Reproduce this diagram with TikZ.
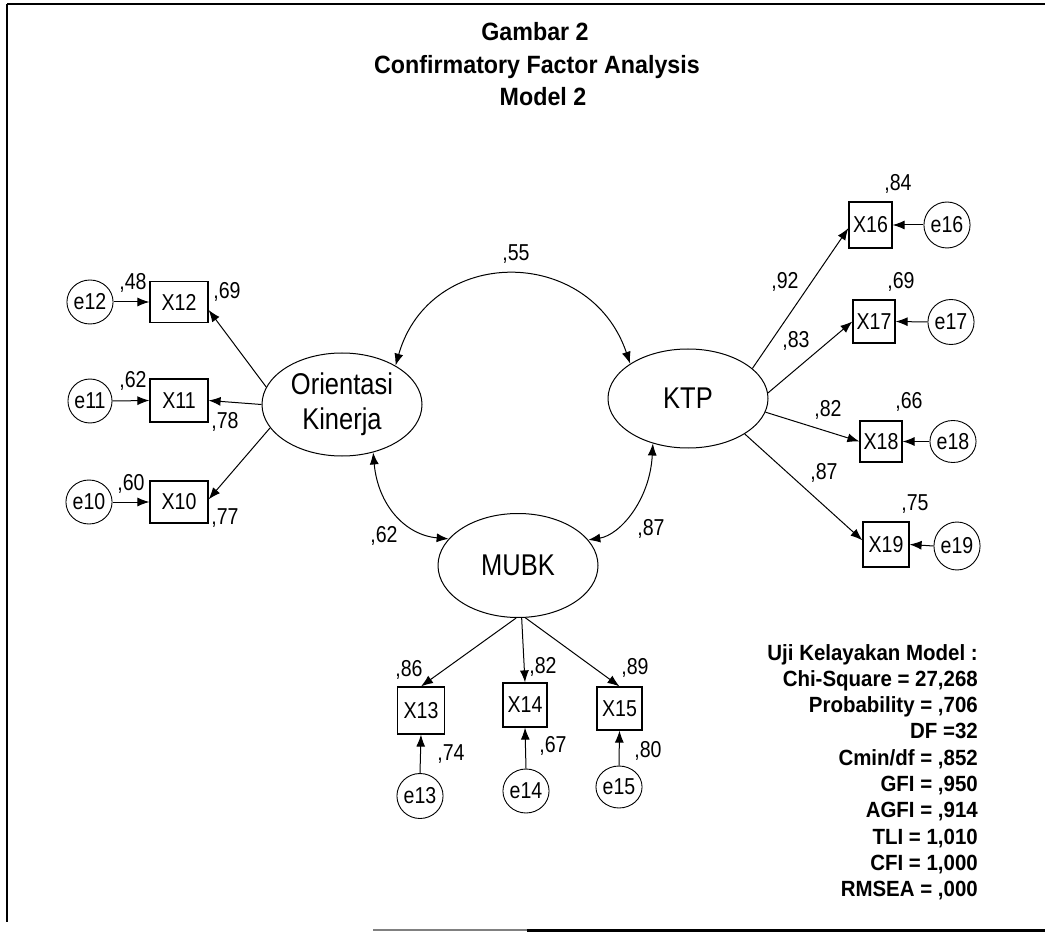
\documentclass[tikz,border=0pt]{standalone}
\usepackage{fontspec}
\setmainfont{Liberation Sans}
\newfontfamily\lblfont[FakeStretch=0.85]{Liberation Sans}
\newfontfamily\hdfont[FakeStretch=0.93]{Liberation Sans}
\usetikzlibrary{arrows.meta,shapes.geometric}
\begin{document}
\begin{tikzpicture}[x=1pt,y=-1pt,
  lat/.style={ellipse, draw, line width=1pt, minimum width=160pt, minimum height=103pt, inner sep=0pt, align=center, font=\lblfont\fontsize{30}{35}\selectfont},
  obs/.style={rectangle, draw, line width=1.2pt, inner sep=0pt, font=\lblfont\fontsize{23}{26}\selectfont},
  err/.style={ellipse, draw, line width=0.9pt, inner sep=0pt, font=\lblfont\fontsize{23}{26}\selectfont},
  lbl/.style={inner sep=0pt, font=\lblfont\fontsize{23}{26}\selectfont},
  stat/.style={inner sep=0pt, anchor=base east, font=\hdfont\bfseries\fontsize{22}{26}\selectfont},
  ttl/.style={inner sep=0pt, anchor=base, font=\hdfont\bfseries\fontsize{25}{30}\selectfont},
  pth/.style={-{Latex[length=12pt,width=9pt]}, line width=1pt},
  cov/.style={{Latex[length=12pt,width=9pt]}-{Latex[length=12pt,width=9pt]}, line width=1pt},
]
\useasboundingbox (0,0) rectangle (1045,933);
% frame
\draw[line width=2.5pt] (7,4) -- (1045,4);
\draw[line width=1.5pt] (7,4) -- (7,922);
\draw[line width=1.5pt, gray] (373,930) -- (527,930);
\draw[line width=3pt] (527,930) -- (1045,930);
% title
\node[ttl] (t1) at (535,41) {Gambar 2};
\node[ttl] (t2) at (537,74) {Confirmatory Factor Analysis};
\node[ttl] (t3) at (543,106) {Model 2};
% latent variables
\node[lat] (OK) at (342,404.5) {Orientasi\\Kinerja};
\node[lat, minimum height=99pt] (KTP) at (688,398.5) {KTP};
\node[lat, minimum height=104pt] (MUBK) at (518,565.5) {MUBK};
% left indicators
\node[obs, minimum width=58pt, minimum height=41pt] (X12) at (179,302) {X12};
\node[obs, minimum width=58pt, minimum height=43pt] (X11) at (179,400.5) {X11};
\node[obs, minimum width=58pt, minimum height=42pt] (X10) at (179,502) {X10};
\node[err, minimum width=44pt, minimum height=44pt] (e12) at (90,302) {e12};
\node[err, minimum width=44pt, minimum height=44pt] (e11) at (90,401) {e11};
\node[err, minimum width=44pt, minimum height=44pt] (e10) at (89,502) {e10};
% right indicators
\node[obs, minimum width=43pt, minimum height=46pt] (X16) at (870.5,225) {X16};
\node[obs, minimum width=42pt, minimum height=43pt] (X17) at (874,321.5) {X17};
\node[obs, minimum width=42pt, minimum height=41pt] (X18) at (881,441.5) {X18};
\node[obs, minimum width=46pt, minimum height=45pt] (X19) at (886,544.5) {X19};
\node[err, minimum width=36pt, minimum height=46pt] (e16) at (947,225) {e16};
\node[err, minimum width=37pt, minimum height=45pt] (e17) at (951,322) {e17};
\node[err, minimum width=37pt, minimum height=42pt] (e18) at (953,441.5) {e18};
\node[err, minimum width=36pt, minimum height=48pt] (e19) at (957,546) {e19};
% bottom indicators
\node[obs, minimum width=47pt, minimum height=47pt] (X13) at (421,710.5) {X13};
\node[obs, minimum width=44pt, minimum height=44pt] (X14) at (525,705) {X14};
\node[obs, minimum width=45pt, minimum height=43pt] (X15) at (619.5,708.5) {X15};
\node[err, minimum width=42pt, minimum height=45pt] (e13) at (420,796) {e13};
\node[err, minimum width=40pt, minimum height=44pt] (e14) at (526,791) {e14};
\node[err, minimum width=38pt, minimum height=42pt] (e15) at (619,787) {e15};
% loadings
\draw[pth] (OK.167) -- (X12.-15);
\draw[pth] (OK.west) -- (X11.east);
\draw[pth] (OK.198) -- (X10.5);
\draw[pth] (KTP.25) -- (X16.188);
\draw[pth] (KTP.4) -- (X17.west);
\draw[pth] (KTP.-10) -- (X18.west);
\draw[pth] (KTP.-32) -- (X19.170);
\draw[pth] (MUBK.-92) -- (X13.north);
\draw[pth] (MUBK.-86) -- (X14.north);
\draw[pth] (MUBK.-82) -- (X15.north);
% errors
\draw[pth] (e12.east) -- (X12.west);
\draw[pth] (e11.east) -- (X11.west);
\draw[pth] (e10.east) -- (X10.west);
\draw[pth] (e16.west) -- (X16.east);
\draw[pth] (e17.west) -- (X17.east);
\draw[pth] (e18.west) -- (X18.east);
\draw[pth] (e19.west) -- (X19.east);
\draw[pth] (e13.north) -- (X13.south);
\draw[pth] (e14.north) -- (X14.south);
\draw[pth] (e15.north) -- (X15.south);
% covariances
\draw[cov] (OK.36) .. controls (430,245) and (590,245) .. (KTP.149);
\draw[cov] (OK.-57) .. controls (378,505) and (405,535) .. (MUBK.159);
\draw[cov] (KTP.-128) .. controls (650,500) and (620,535) .. (MUBK.20);
% labels
\node[lbl] (c55) at (516,254) {,55};
\node[lbl] (c62) at (384,536) {,62};
\node[lbl] (c87) at (651,529) {,87};
\node[lbl] (r48) at (133,283) {,48};
\node[lbl] (l69) at (227,292) {,69};
\node[lbl] (r62) at (133,381) {,62};
\node[lbl] (l78) at (225,422) {,78};
\node[lbl] (r60) at (131,484) {,60};
\node[lbl] (l77) at (225,518) {,77};
\node[lbl] (r84) at (898,184) {,84};
\node[lbl] (l92) at (785,282) {,92};
\node[lbl] (r69) at (901,282) {,69};
\node[lbl] (l83) at (796,341) {,83};
\node[lbl] (l82) at (828,410) {,82};
\node[lbl] (r66) at (909,402) {,66};
\node[lbl] (l87) at (824,473) {,87};
\node[lbl] (r75) at (915,504) {,75};
\node[lbl] (l86) at (409,670) {,86};
\node[lbl] (l82b) at (543,667) {,82};
\node[lbl] (l89) at (635,668) {,89};
\node[lbl] (r74) at (451,754) {,74};
\node[lbl] (r67) at (553,746) {,67};
\node[lbl] (r80) at (648,751) {,80};
% fit statistics
\node[stat] (s1) at (978,660) {Uji Kelayakan Model :};
\node[stat] (s2) at (978,686.3) {Chi-Square = 27,268};
\node[stat] (s3) at (978,712.6) {Probability = ,706};
\node[stat] (s4) at (978,738.9) {DF =32};
\node[stat] (s5) at (978,765.2) {Cmin/df = ,852};
\node[stat] (s6) at (978,791.5) {GFI = ,950};
\node[stat] (s7) at (978,817.8) {AGFI = ,914};
\node[stat] (s8) at (978,844.1) {TLI = 1,010};
\node[stat] (s9) at (978,870.4) {CFI = 1,000};
\node[stat] (s10) at (978,896.7) {RMSEA = ,000};
\end{tikzpicture}
\end{document}
